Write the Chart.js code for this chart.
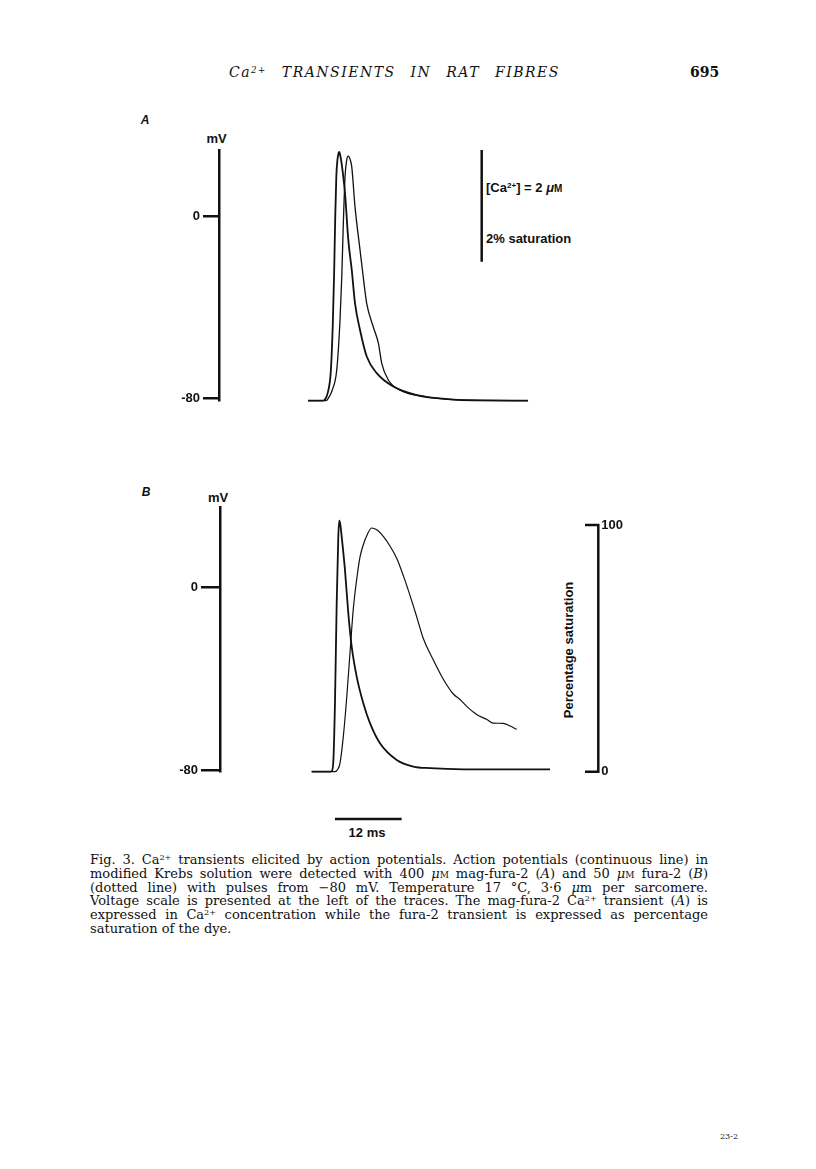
<!DOCTYPE html>
<html><head><meta charset="utf-8">
<script src="https://cdn.jsdelivr.net/npm/chart.js@4.4.1/dist/chart.umd.min.js"></script>
<style>
html,body{margin:0;padding:0;background:#fff;}
body{width:816px;height:1169px;position:relative;overflow:hidden;color:#111;}
.abs{position:absolute;white-space:nowrap;line-height:1;}
.sans{font-family:"Liberation Sans",Arial,sans-serif;font-weight:bold;font-size:13px;}
.c{transform:translate(-50%,-50%);}
.l{transform:translate(0,-50%);}
.pl{font-family:"Liberation Sans",Arial,sans-serif;font-weight:bold;font-style:italic;font-size:12px;}
sup{font-size:0.62em;vertical-align:0;position:relative;top:-0.5em;line-height:0;}
.sc{font-variant:small-caps;}
.hdr{font-family:"DejaVu Serif",serif;font-style:italic;font-size:14px;letter-spacing:1.5px;word-spacing:9px;}
.pg{font-family:"DejaVu Serif",serif;font-weight:bold;font-size:14px;}
.cap{position:absolute;left:90px;width:618px;top:853px;font-family:"DejaVu Serif",serif;font-size:13px;line-height:13.8px;}
.cap div{text-align:justify;text-align-last:justify;height:13.8px;white-space:normal;}
.cap div.last{text-align-last:left;}
.box{position:absolute;}
</style></head>
<body>
<div class="abs hdr l" style="left:229px;top:72px;">Ca<sup>2+</sup> TRANSIENTS IN RAT FIBRES</div>
<div class="abs pg l" style="left:690px;top:72px;">695</div>

<div class="abs pl c" style="left:145px;top:120px;">A</div>
<div class="abs sans c" style="left:216.5px;top:138px;">mV</div>
<div class="abs sans l" style="left:486px;top:187px;">[Ca<sup>2+</sup>] = 2 <span style="font-style:italic;">μ</span><span style="font-size:10px;">M</span></div>
<div class="abs sans l" style="left:486px;top:237.5px;">2% saturation</div>
<div class="box" style="left:130px;top:100px;width:500px;height:320px;"><canvas id="cA"></canvas></div>

<div class="abs pl c" style="left:146px;top:492px;">B</div>
<div class="abs sans c" style="left:218px;top:497px;">mV</div>
<div class="abs sans c" style="left:568px;top:650px;transform:translate(-50%,-50%) rotate(-90deg);">Percentage saturation</div>
<div class="abs sans c" style="left:367px;top:832px;">12 ms</div>
<div class="box" style="left:130px;top:480px;width:520px;height:370px;"><canvas id="cB"></canvas></div>

<div class="cap">
<div>Fig. 3. Ca<sup>2+</sup> transients elicited by action potentials. Action potentials (continuous line) in</div>
<div>modified Krebs solution were detected with 400 <i>μ</i><span class="sc">m</span> mag-fura-2 (<i>A</i>) and 50 <i>μ</i><span class="sc">m</span> fura-2 (<i>B</i>)</div>
<div>(dotted line) with pulses from −80 mV. Temperature 17 °C, 3·6 <i>μ</i>m per sarcomere.</div>
<div>Voltage scale is presented at the left of the traces. The mag-fura-2 Ca<sup>2+</sup> transient (<i>A</i>) is</div>
<div>expressed in Ca<sup>2+</sup> concentration while the fura-2 transient is expressed as percentage</div>
<div class="last">saturation of the dye.</div>
</div>
<div class="abs" style="left:720px;top:1133px;font-family:'DejaVu Serif',serif;font-size:8px;">23-2</div>

<script>
// ---------- Panel A data (time in ms, voltage in mV, [Ca2+] in µM) ----------
const apA_t = [0, 2.6, 3.0, 3.6, 4.1, 4.45, 4.7, 4.9, 5.1, 5.3, 5.5, 5.63, 5.8, 6.07, 6.66, 7.25, 7.87, 8.46, 9.36, 10.57, 12.37, 15.35, 19.56, 25.56, 30, 39.6];
const apA   = [-80.9, -80.9, -80.5, -77, -68, -48, -25, 0, 18, 25, 28, 28.5, 27, 23, 10.3, -10.2, -23.4, -38.1, -49.8, -61.5, -68.8, -74.7, -78.4, -80.3, -80.8, -80.9];
const caA_t = [0, 3.2, 3.65, 4.4, 5.17, 5.76, 6.07, 6.36, 6.66, 6.95, 7.25, 7.55, 7.87, 8.46, 9.36, 9.9, 10.57, 11.75, 12.66, 13.27, 14.45, 16.56, 21.36, 25.56, 30, 39.6];
const caA   = [0, 0, 0.04, 0.2, 0.55, 1.44, 2.2, 3.18, 4.0, 4.3, 4.38, 4.33, 4.19, 3.47, 2.70, 2.25, 1.74, 1.32, 1.03, 0.67, 0.37, 0.19, 0.07, 0.025, 0.01, 0];
const caBarA_t = [31.26, 31.26];      // calibration bar: 2 µM
const caBarA   = [4.489, 2.489];

// ---------- Panel B data (time in ms, voltage in mV, % saturation) ----------
const apB_t = [0, 3.3, 3.6, 3.9, 4.19, 4.5, 4.79, 4.97, 5.15, 5.40, 5.99, 6.59, 7.20, 8.10, 9.29, 10.49, 12.29, 15.30, 18.29, 21.29, 27.3, 42.9];
const apB   = [-80.7, -80.7, -80.5, -76, -50.8, -7, 22.2, 29.2, 27.5, 22.2, 7.6, -11.4, -26.0, -39.1, -50.8, -59.5, -68.3, -75.6, -78.5, -79.2, -79.7, -79.7];
const caB_t = [0, 4.19, 4.7, 5.09, 5.69, 6.30, 6.89, 7.49, 8.10, 8.69, 9.29, 10.01, 10.80, 11.70, 12.89, 14.09, 15.30, 16.49, 17.69, 18.9, 20.09, 21.89, 23.69, 25.49, 26.69, 27.9, 29.7, 31.5, 32.69, 34.49, 35.69, 36.9];
const caB   = [0, 0, 1, 3.4, 14.2, 30, 48, 66, 78, 87, 92, 96.2, 98.8, 98.1, 95.4, 91.5, 86.5, 79.5, 71.5, 62.8, 54, 45.3, 37.5, 31.5, 29.3, 26.5, 23.2, 21.2, 19.7, 19.6, 18.5, 17.2];
const pctAxis_t = [49.19, 51.58, 51.58, 49.19];   // right-hand % saturation bracket
const pctAxis   = [100, 100, 0, 0];
const timeBar_t = [4.19, 16.19];                  // 12 ms bar
const timeBar   = [-19.17, -19.17];

const mvTicks = [-80, 0];
const pctTicks = [0, 100];

const INK = '#111';
const FONT = {family: '"Liberation Sans", Arial, sans-serif', size: 13, weight: 'bold'};
const pts = (t, v) => t.map((x, i) => ({x, y: v[i]}));
const line = (data, axis, w) => ({data, yAxisID: axis, borderColor: INK, borderWidth: w, pointRadius: 0,
  fill: false, clip: false, cubicInterpolationMode: 'monotone'});
const straight = (data, axis, w) => Object.assign(line(data, axis, w), {cubicInterpolationMode: 'default', tension: 0, borderJoinStyle: 'miter', borderCapStyle: 'butt'});

function mvAxis(min, max, width, tl) {
  return {type: 'linear', position: 'left', min, max,
    afterBuildTicks: ax => { ax.ticks = mvTicks.map(v => ({value: v})); },
    afterFit: ax => { ax.width = width; },
    border: {display: true, width: 2.5, color: INK},
    grid: {display: true, drawOnChartArea: false, drawTicks: true, tickLength: tl, tickWidth: 2.5, tickColor: INK, color: INK, lineWidth: 2.5},
    ticks: {font: FONT, color: INK, padding: 3, autoSkip: false}};
}
const common = {responsive: true, maintainAspectRatio: false, animation: false, events: [],
  plugins: {legend: {display: false}, tooltip: {enabled: false}}};

new Chart(document.getElementById('cA'), {
  type: 'line',
  data: {datasets: [
    line(pts(apA_t, apA), 'y', 1.8),
    line(pts(caA_t, caA), 'y2', 1.3),
    straight(pts(caBarA_t, caBarA), 'y2', 2.5)
  ]},
  options: Object.assign({}, common, {
    layout: {padding: {top: 50, bottom: 19.3, left: 0, right: 0}},
    scales: {
      x: {type: 'linear', min: -16.02, max: 57.95, display: false},
      y: mvAxis(-80.9, 29.3, 89, 16),
      y2: {type: 'linear', position: 'right', min: 0, max: 4.489, display: false}
    }
  })
});

new Chart(document.getElementById('cB'), {
  type: 'line',
  data: {datasets: [
    line(pts(apB_t, apB), 'y', 1.8),
    line(pts(caB_t, caB), 'y2', 1.2),
    straight(pts(pctAxis_t, pctAxis), 'y2', 2.5),
    straight(pts(timeBar_t, timeBar), 'y2', 2.5)
  ]},
  options: Object.assign({}, common, {
    layout: {padding: {top: 27.3, bottom: 78.3, left: 0, right: 0}},
    scales: {
      x: {type: 'linear', min: -16.50, max: 51.58, display: false},
      y: mvAxis(-80.75, 35.0, 90, 19),
      y2: {type: 'linear', position: 'right', min: 0, max: 107.2,
        afterBuildTicks: ax => { ax.ticks = pctTicks.map(v => ({value: v})); },
        afterFit: ax => { ax.width = 51.7; },
        border: {display: false},
        grid: {display: false, drawTicks: false},
        ticks: {font: FONT, color: INK, padding: 3, autoSkip: false}}
    }
  })
});
</script>
</body></html>
